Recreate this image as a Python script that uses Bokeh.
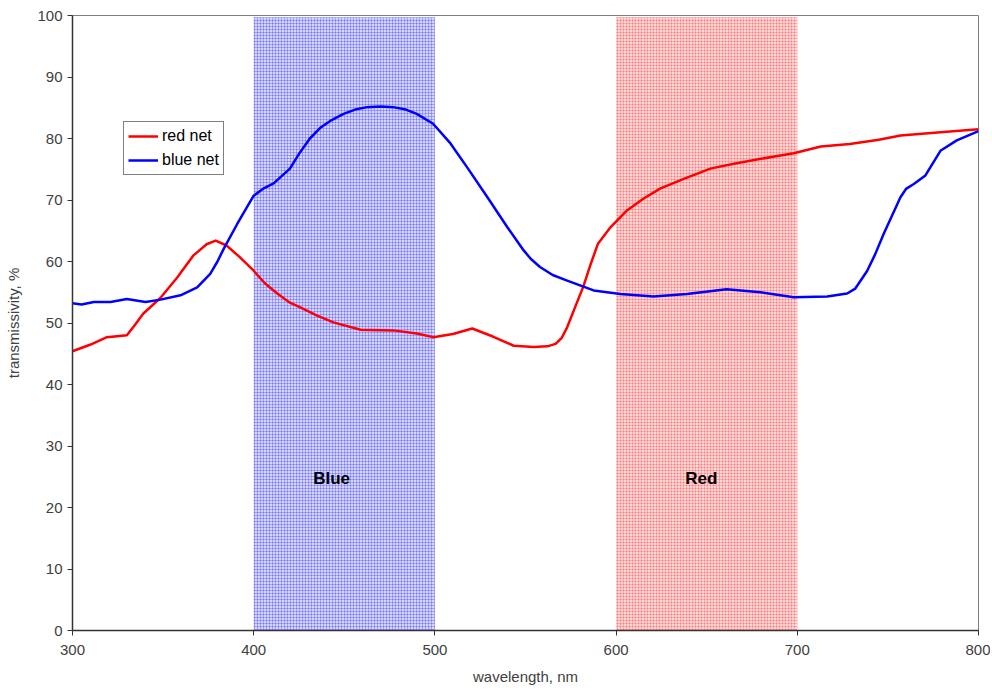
from bokeh.plotting import figure
from bokeh.models import Legend, LegendItem, Range1d, FixedTicker
from bokeh.core.properties import value
from bokeh.embed import file_html
from bokeh.resources import INLINE

# ---- data ----
red_x = [300, 310, 319, 330, 334, 339, 348.6, 357.8, 366.8, 374, 379, 385, 392, 400, 406, 413, 420, 426, 435, 444, 459, 477,
         490, 499, 510, 520.6, 532, 543.5, 554.6, 562, 566.6, 570, 573, 577, 582, 586, 590, 597, 606, 615, 624.5, 637, 652, 665,
         680, 698, 713, 729, 745, 757, 779, 800]
red_y = [45.4, 46.5, 47.7, 48.0, 49.5, 51.5, 54.1, 57.4, 61.0, 62.8, 63.4, 62.6, 60.8, 58.5, 56.5, 54.8, 53.3, 52.5, 51.2, 50.1, 48.9, 48.8,
         48.3, 47.7, 48.2, 49.1, 47.8, 46.3, 46.1, 46.2, 46.6, 47.6, 49.3, 52.3, 56.0, 59.6, 62.9, 65.6, 68.3, 70.2, 71.9, 73.4, 75.1, 75.9,
         76.7, 77.6, 78.7, 79.1, 79.8, 80.5, 81.0, 81.5]

blue_x = [300, 305, 311.8, 321, 330, 340.3, 348.6, 359.6, 368.8, 376, 380, 383.5, 390.9, 400, 405, 411, 420, 425, 431, 437,
          443, 449.6, 456, 462.6, 470, 477, 484, 490, 499, 508.6, 517.8, 528.9, 539.9, 549, 553, 558, 565, 573, 587.6, 602.4, 620.7, 639,
          661, 679.7, 698, 716.5, 727.5, 732, 735, 738.6, 743, 747.7, 757, 760, 764.3, 770.7, 779, 788, 800]
blue_y = [53.2, 53.0, 53.4, 53.4, 53.9, 53.4, 53.8, 54.5, 55.8, 58.0, 60.0, 62.1, 66.1, 70.7, 71.8, 72.7, 75.1, 77.5, 80.0, 81.8,
          83.0, 84.0, 84.7, 85.1, 85.2, 85.1, 84.7, 84.0, 82.4, 79.2, 75.3, 70.5, 65.6, 61.8, 60.4, 59.1, 57.8, 56.9, 55.3, 54.7, 54.3, 54.7,
          55.5, 55.0, 54.2, 54.3, 54.8, 55.6, 56.9, 58.5, 61.2, 64.5, 70.5, 71.8, 72.6, 74.0, 78.0, 79.7, 81.2]

band_left = [400, 600]
band_right = [500, 700]
band_top = [99.7, 99.7]
band_names = ["Blue", "Red"]
band_label_x = [443, 647]
band_label_y = [24.7, 24.7]

x_ticks = [300, 400, 500, 600, 700, 800]
y_ticks = [0, 10, 20, 30, 40, 50, 60, 70, 80, 90, 100]

FONT = "Liberation Sans"
GREY = "#404040"

p = figure(width=990, height=689, output_backend="svg", toolbar_location=None,
           x_range=Range1d(300, 800), y_range=Range1d(0, 100),
           min_border_left=72, min_border_right=12, min_border_top=15, min_border_bottom=59)
p.grid.visible = False
p.outline_line_color = "#808080"
p.outline_line_width = 1

# bands
p.quad(left=[band_left[0]], right=[band_right[0]], bottom=[0], top=[band_top[0]],
       fill_color="#d6d6ff", line_color=None,
       hatch_pattern="+", hatch_color="#3a3aff", hatch_alpha=0.35, hatch_scale=3, hatch_weight=1)
p.quad(left=[band_left[1]], right=[band_right[1]], bottom=[0], top=[band_top[1]],
       fill_color="#ffd8d8", line_color=None,
       hatch_pattern="+", hatch_color="#ff4a4a", hatch_alpha=0.35, hatch_scale=3, hatch_weight=1)

p.text(x=band_label_x, y=band_label_y, text=band_names, text_font=value(FONT),
       text_font_size="17px", text_font_style="bold", text_align="center",
       text_baseline="middle", text_color="black")

r_red = p.line(red_x, red_y, line_color="#ff0000", line_width=2.5, line_join="round")
r_blue = p.line(blue_x, blue_y, line_color="#0000ff", line_width=2.5, line_join="round")

legend = Legend(items=[LegendItem(label="red net", renderers=[r_red]),
                       LegendItem(label="blue net", renderers=[r_blue])],
                location=(51, 455))
legend.border_line_color = "black"
legend.border_line_width = 1
legend.background_fill_color = "white"
legend.label_text_font = FONT
legend.label_text_font_size = "16px"
legend.label_text_color = "black"
legend.glyph_width = 30
legend.glyph_height = 20
legend.label_height = 20
legend.spacing = 4
legend.padding = 4
legend.margin = 0
legend.label_standoff = 4
p.add_layout(legend)

for ax in (p.xaxis[0], p.yaxis[0]):
    ax.major_label_text_font = FONT
    ax.major_label_text_font_size = "15px"
    ax.major_label_text_color = GREY
    ax.axis_label_text_font = FONT
    ax.axis_label_text_font_size = "15px"
    ax.axis_label_text_font_style = "normal"
    ax.axis_label_text_color = GREY
    ax.axis_line_color = "#333333"
    ax.axis_line_width = 1.5
    ax.major_tick_line_color = "#333333"
    ax.major_tick_out = 5
    ax.major_tick_in = 0
    ax.minor_tick_out = 0
    ax.minor_tick_in = 0

p.xaxis.ticker = FixedTicker(ticks=x_ticks)
p.yaxis.ticker = FixedTicker(ticks=y_ticks)
p.xaxis.axis_label = "wavelength, nm"
p.yaxis.axis_label = "transmissivity, %"
p.xaxis.major_label_standoff = 9
p.xaxis.axis_label_standoff = 10
p.yaxis.major_label_standoff = 5
p.yaxis.axis_label_standoff = 12

open("out.html", "w").write(file_html(p, INLINE))
